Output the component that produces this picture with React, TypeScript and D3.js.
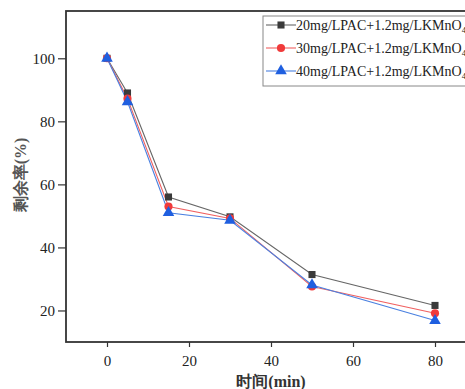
import { useEffect, useRef } from "react";
import * as d3 from "d3";

const times = [0, 5, 15, 30, 50, 80];
const seriesNames = [
  "20mg/LPAC+1.2mg/LKMnO",
  "30mg/LPAC+1.2mg/LKMnO",
  "40mg/LPAC+1.2mg/LKMnO",
];
const s20 = [100, 89, 56, 49.7, 31.4, 21.6];
const s30 = [100, 87.2, 53, 49.2, 27.6, 19.1];
const s40 = [100, 86.2, 51, 48.6, 28.1, 16.8];
const xTicks = [0, 20, 40, 60, 80];
const yTicks = [20, 40, 60, 80, 100];

const styles = [
  { line: "#666666", fill: "#3a3a3a", symbol: d3.symbolSquare, size: 50 },
  { line: "#f06060", fill: "#f03a3a", symbol: d3.symbolCircle, size: 52 },
  { line: "#4a80e0", fill: "#1f5fe0", symbol: d3.symbolTriangle, size: 58 },
];

export default function App() {
  const svgRef = useRef<SVGSVGElement>(null);
  const width = 465;
  const height = 389;
  const margin = { top: 11, right: -11, bottom: 47, left: 66 };

  useEffect(() => {
    if (!svgRef.current) return;
    const svg = d3.select(svgRef.current);
    svg.selectAll("*").remove();

    const innerWidth = width - margin.left - margin.right;
    const innerHeight = height - margin.top - margin.bottom;

    const x = d3.scaleLinear().domain([-10, 90]).range([0, innerWidth]);
    const y = d3.scaleLinear().domain([10, 115]).range([innerHeight, 0]);

    const g = svg
      .append("g")
      .attr("transform", `translate(${margin.left},${margin.top})`);

    const font = "'Liberation Serif', 'Times New Roman', serif";
    const axisColor = "#333";

    // x axis
    const xAxis = g
      .append("g")
      .attr("transform", `translate(0,${innerHeight})`)
      .call(d3.axisBottom(x).tickValues(xTicks).tickSize(5).tickPadding(8));
    xAxis.select(".domain").remove();
    xAxis.selectAll("line").attr("stroke", axisColor).attr("stroke-width", 1.2);
    xAxis
      .selectAll("text")
      .attr("font-family", font)
      .attr("font-size", 15)
      .attr("fill", "#222");

    // y axis
    const yAxis = g
      .append("g")
      .call(d3.axisLeft(y).tickValues(yTicks).tickSize(8).tickPadding(3));
    yAxis.select(".domain").remove();
    yAxis.selectAll("line").attr("stroke", axisColor).attr("stroke-width", 1.2);
    yAxis
      .selectAll("text")
      .attr("font-family", font)
      .attr("font-size", 15)
      .attr("fill", "#222");

    // frame
    g.append("rect")
      .attr("x", 0)
      .attr("y", 0)
      .attr("width", innerWidth)
      .attr("height", innerHeight)
      .attr("fill", "none")
      .attr("stroke", axisColor)
      .attr("stroke-width", 1.8);

    // series
    const all = [s20, s30, s40];
    const line = d3
      .line<number>()
      .x((_, i) => x(times[i]))
      .y((d) => y(d));

    all.forEach((vals, k) => {
      const st = styles[k];
      g.append("path")
        .datum(vals)
        .attr("fill", "none")
        .attr("stroke", st.line)
        .attr("stroke-width", 1.1)
        .attr("d", line);
    });
    all.forEach((vals, k) => {
      const st = styles[k];
      g.append("g")
        .selectAll("path")
        .data(vals)
        .join("path")
        .attr("transform", (d, i) => `translate(${x(times[i])},${y(d)})`)
        .attr("d", d3.symbol(st.symbol, st.size)())
        .attr("fill", st.fill);
    });

    // legend
    const lg = svg.append("g").attr("transform", "translate(263,16)");
    lg.append("rect")
      .attr("x", 0)
      .attr("y", 0)
      .attr("width", 230)
      .attr("height", 70)
      .attr("fill", "white")
      .attr("stroke", "#888")
      .attr("stroke-width", 1);
    seriesNames.forEach((name, k) => {
      const st = styles[k];
      const cy = 9 + k * 23;
      const row = lg.append("g").attr("transform", `translate(0,${cy})`);
      row
        .append("line")
        .attr("x1", 3)
        .attr("x2", 33)
        .attr("y1", 0)
        .attr("y2", 0)
        .attr("stroke", st.line)
        .attr("stroke-width", 1.1);
      row
        .append("path")
        .attr("transform", "translate(18,0)")
        .attr("d", d3.symbol(st.symbol, st.size)())
        .attr("fill", st.fill);
      const t = row
        .append("text")
        .attr("x", 33)
        .attr("y", 5)
        .attr("font-family", font)
        .attr("font-size", 14)
        .attr("fill", "#222")
        .text(name);
      t.append("tspan")
        .attr("font-size", 9)
        .attr("dy", 3)
        .text("4");
    });

    // axis titles
    svg
      .append("text")
      .attr("x", margin.left + x(40))
      .attr("y", 387)
      .attr("text-anchor", "middle")
      .attr("font-family", font)
      .attr("font-weight", "bold")
      .attr("font-size", 16)
      .attr("fill", "#333")
      .text("时间(min)");

    svg
      .append("text")
      .attr("transform", `translate(26,${margin.top + y(63)}) rotate(-90)`)
      .attr("text-anchor", "middle")
      .attr("font-family", font)
      .attr("font-weight", "bold")
      .attr("font-size", 16)
      .attr("fill", "#555")
      .text("剩余率(%)");
  }, []);

  return (
    <svg
      ref={svgRef}
      width={width}
      height={height}
      style={{ position: "absolute", left: 0, top: 0, background: "white" }}
    />
  );
}
